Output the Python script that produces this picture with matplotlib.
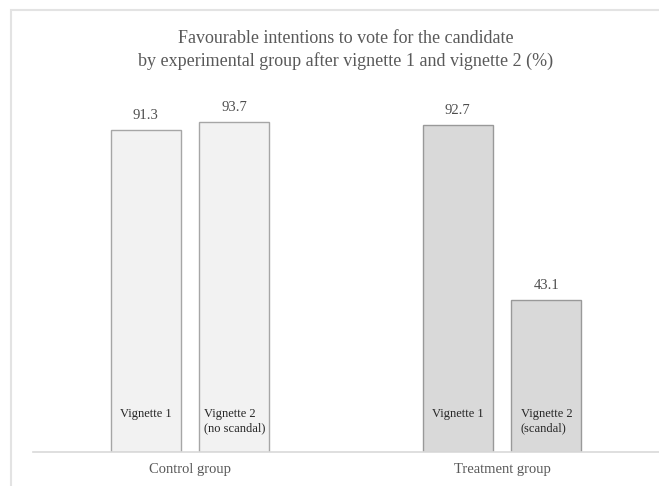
import matplotlib.pyplot as plt
import matplotlib.patches as mpatches

# Favourable intentions to vote, by group and vignette (%)
groups = ['Control group', 'Treatment group']
vignette1 = [91.3, 92.7]
vignette2 = [93.7, 43.1]
v1_labels = ['Vignette 1', 'Vignette 1']
v2_labels = ['Vignette 2\n(no scandal)', 'Vignette 2\n(scandal)']

fills = ['#f2f2f2', '#d9d9d9']
edges = ['#a6a6a6', '#999999']
txt = '#4d4d4d'

plt.rcParams['font.family'] = ['Liberation Serif', 'DejaVu Serif']

fig = plt.figure(figsize=(6.59, 4.86), dpi=100)
ax = fig.add_axes([33 / 659, 34 / 486, 626 / 659, 352.6 / 486])

w = 0.224
off = 0.142
for i in range(len(groups)):
    for x, v, lab in [(i - off, vignette1[i], v1_labels[i]),
                      (i + off, vignette2[i], v2_labels[i])]:
        ax.bar(x, v, width=w, color=fills[i], edgecolor=edges[i], linewidth=1.0)
        ax.text(x, v + 2.3, '%.1f' % v, ha='center', va='bottom',
                fontsize=10.5, color=txt)
        ax.text(x, 12.6, lab, ha='center', va='top', multialignment='left',
                fontsize=9, color='#262626', linespacing=1.25)

ax.set_xlim(-0.503, 1.503)
ax.set_ylim(0, 100)
ax.set_xticks(range(len(groups)))
ax.set_xticklabels(groups, fontsize=10.5, color='#595959')
ax.tick_params(axis='x', length=0, pad=8)
ax.set_yticks([])
for s in ['top', 'right', 'left']:
    ax.spines[s].set_visible(False)
ax.spines['bottom'].set_color('#d9d9d9')
ax.spines['bottom'].set_linewidth(1.2)
ax.patch.set_alpha(0)

fig.text(0.524, 1 - 50 / 486,
         'Favourable intentions to vote for the candidate\n'
         'by experimental group after vignette 1 and vignette 2 (%)',
         ha='center', va='center', fontsize=13, color='#595959', linespacing=1.3)

fig.add_artist(mpatches.Rectangle((11 / 659, -0.05), 1.0, 1 - 10 / 486 + 0.05,
                                  transform=fig.transFigure, fill=False,
                                  edgecolor='#e3e3e3', linewidth=1.5))

plt.savefig('out.png', dpi=100)
